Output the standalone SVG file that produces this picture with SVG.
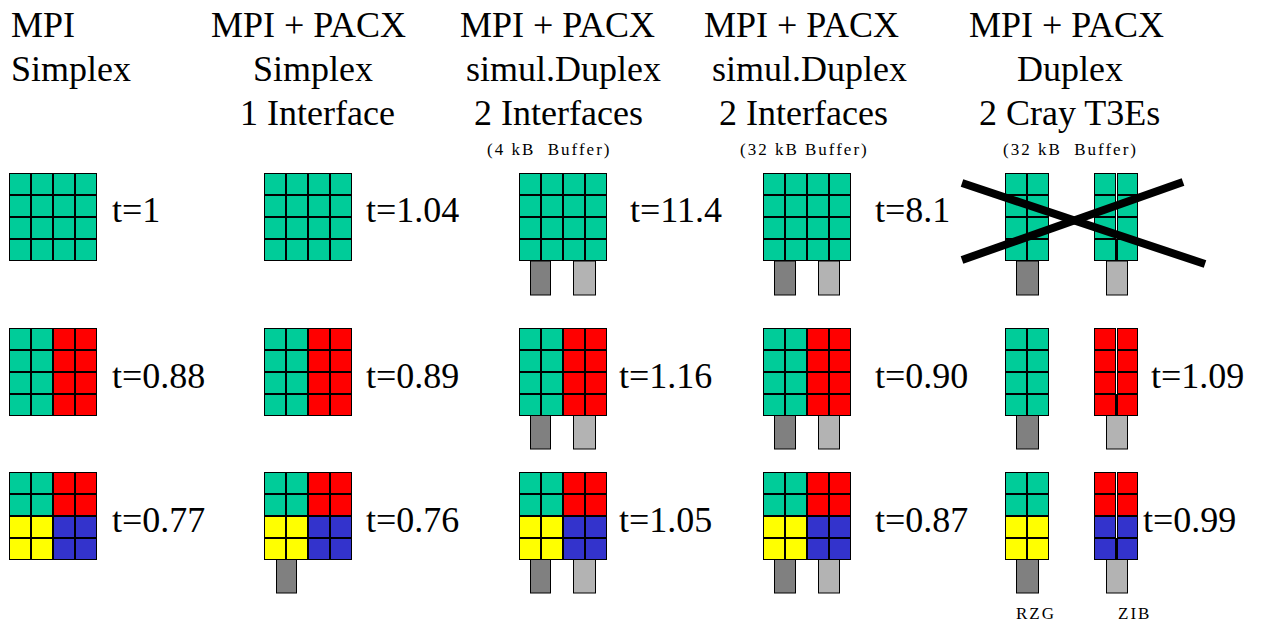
<svg xmlns="http://www.w3.org/2000/svg" width="1263" height="622" viewBox="0 0 1263 622">
<style>
.rs-bg{fill:#000}
.rs-g{fill:#00cc99}.rs-r{fill:#ff0000}.rs-y{fill:#ffff00}.rs-b{fill:#3333cc}
.rs-dk{fill:#808080;stroke:#000;stroke-width:1}
.rs-lt{fill:#b3b3b3;stroke:#000;stroke-width:1}
.rs-gap{fill:#fff}
.rs-x{stroke:#000;stroke-width:8;fill:none}
</style>
<defs>
<g id="G4">
<rect class="rs-bg" width="88" height="88"/>
<rect class="rs-g" x="1" y="1" width="20" height="20"/><rect class="rs-g" x="23" y="1" width="20" height="20"/><rect class="rs-g" x="45" y="1" width="20" height="20"/><rect class="rs-g" x="67" y="1" width="20" height="20"/>
<rect class="rs-g" x="1" y="23" width="20" height="20"/><rect class="rs-g" x="23" y="23" width="20" height="20"/><rect class="rs-g" x="45" y="23" width="20" height="20"/><rect class="rs-g" x="67" y="23" width="20" height="20"/>
<rect class="rs-g" x="1" y="45" width="20" height="20"/><rect class="rs-g" x="23" y="45" width="20" height="20"/><rect class="rs-g" x="45" y="45" width="20" height="20"/><rect class="rs-g" x="67" y="45" width="20" height="20"/>
<rect class="rs-g" x="1" y="67" width="20" height="20"/><rect class="rs-g" x="23" y="67" width="20" height="20"/><rect class="rs-g" x="45" y="67" width="20" height="20"/><rect class="rs-g" x="67" y="67" width="20" height="20"/>
</g>
<g id="GR">
<rect class="rs-bg" width="88" height="88"/>
<rect class="rs-g" x="1" y="1" width="20" height="20"/><rect class="rs-g" x="23" y="1" width="20" height="20"/><rect class="rs-r" x="45" y="1" width="20" height="20"/><rect class="rs-r" x="67" y="1" width="20" height="20"/>
<rect class="rs-g" x="1" y="23" width="20" height="20"/><rect class="rs-g" x="23" y="23" width="20" height="20"/><rect class="rs-r" x="45" y="23" width="20" height="20"/><rect class="rs-r" x="67" y="23" width="20" height="20"/>
<rect class="rs-g" x="1" y="45" width="20" height="20"/><rect class="rs-g" x="23" y="45" width="20" height="20"/><rect class="rs-r" x="45" y="45" width="20" height="20"/><rect class="rs-r" x="67" y="45" width="20" height="20"/>
<rect class="rs-g" x="1" y="67" width="20" height="20"/><rect class="rs-g" x="23" y="67" width="20" height="20"/><rect class="rs-r" x="45" y="67" width="20" height="20"/><rect class="rs-r" x="67" y="67" width="20" height="20"/>
</g>
<g id="Q">
<rect class="rs-bg" width="88" height="88"/>
<rect class="rs-g" x="1" y="1" width="20" height="20"/><rect class="rs-g" x="23" y="1" width="20" height="20"/><rect class="rs-r" x="45" y="1" width="20" height="20"/><rect class="rs-r" x="67" y="1" width="20" height="20"/>
<rect class="rs-g" x="1" y="23" width="20" height="20"/><rect class="rs-g" x="23" y="23" width="20" height="20"/><rect class="rs-r" x="45" y="23" width="20" height="20"/><rect class="rs-r" x="67" y="23" width="20" height="20"/>
<rect class="rs-y" x="1" y="45" width="20" height="20"/><rect class="rs-y" x="23" y="45" width="20" height="20"/><rect class="rs-b" x="45" y="45" width="20" height="20"/><rect class="rs-b" x="67" y="45" width="20" height="20"/>
<rect class="rs-y" x="1" y="67" width="20" height="20"/><rect class="rs-y" x="23" y="67" width="20" height="20"/><rect class="rs-b" x="45" y="67" width="20" height="20"/><rect class="rs-b" x="67" y="67" width="20" height="20"/>
</g>
<g id="HG">
<rect class="rs-bg" width="44" height="88"/>
<rect class="rs-g" x="1" y="1" width="20" height="20"/><rect class="rs-g" x="23" y="1" width="20" height="20"/>
<rect class="rs-g" x="1" y="23" width="20" height="20"/><rect class="rs-g" x="23" y="23" width="20" height="20"/>
<rect class="rs-g" x="1" y="45" width="20" height="20"/><rect class="rs-g" x="23" y="45" width="20" height="20"/>
<rect class="rs-g" x="1" y="67" width="20" height="20"/><rect class="rs-g" x="23" y="67" width="20" height="20"/>
</g>
<g id="HGg">
<rect class="rs-bg" width="44" height="88"/>
<rect class="rs-g" x="1" y="1" width="20" height="20"/><rect class="rs-g" x="24" y="1" width="19" height="20"/>
<rect class="rs-g" x="1" y="23" width="20" height="20"/><rect class="rs-g" x="24" y="23" width="19" height="20"/>
<rect class="rs-g" x="1" y="45" width="20" height="20"/><rect class="rs-g" x="24" y="45" width="19" height="20"/>
<rect class="rs-g" x="1" y="67" width="20" height="20"/><rect class="rs-g" x="24" y="67" width="19" height="20"/>
<rect class="rs-gap" x="22" y="0" width="1" height="66"/>
</g>
<g id="HR">
<rect class="rs-bg" width="44" height="88"/>
<rect class="rs-r" x="1" y="1" width="20" height="20"/><rect class="rs-r" x="24" y="1" width="19" height="20"/>
<rect class="rs-r" x="1" y="23" width="20" height="20"/><rect class="rs-r" x="24" y="23" width="19" height="20"/>
<rect class="rs-r" x="1" y="45" width="20" height="20"/><rect class="rs-r" x="24" y="45" width="19" height="20"/>
<rect class="rs-r" x="1" y="67" width="20" height="20"/><rect class="rs-r" x="24" y="67" width="19" height="20"/>
<rect class="rs-gap" x="22" y="0" width="1" height="66"/>
</g>
<g id="HGY">
<rect class="rs-bg" width="44" height="88"/>
<rect class="rs-g" x="1" y="1" width="20" height="20"/><rect class="rs-g" x="23" y="1" width="20" height="20"/>
<rect class="rs-g" x="1" y="23" width="20" height="20"/><rect class="rs-g" x="23" y="23" width="20" height="20"/>
<rect class="rs-y" x="1" y="45" width="20" height="20"/><rect class="rs-y" x="23" y="45" width="20" height="20"/>
<rect class="rs-y" x="1" y="67" width="20" height="20"/><rect class="rs-y" x="23" y="67" width="20" height="20"/>
</g>
<g id="HRB">
<rect class="rs-bg" width="44" height="88"/>
<rect class="rs-r" x="1" y="1" width="20" height="20"/><rect class="rs-r" x="24" y="1" width="19" height="20"/>
<rect class="rs-r" x="1" y="23" width="20" height="20"/><rect class="rs-r" x="24" y="23" width="19" height="20"/>
<rect class="rs-b" x="1" y="45" width="20" height="20"/><rect class="rs-b" x="24" y="45" width="19" height="20"/>
<rect class="rs-b" x="1" y="67" width="20" height="20"/><rect class="rs-b" x="24" y="67" width="19" height="20"/>
<rect class="rs-gap" x="22" y="0" width="1" height="66"/>
</g>
</defs>
<rect width="1263" height="622" fill="#fff"/>
<g id="headers">
<text x="11" y="37" font-family="Liberation Serif" font-size="36">MPI</text>
<text x="11" y="81" font-family="Liberation Serif" font-size="36">Simplex</text>
<text x="211" y="37" font-family="Liberation Serif" font-size="36">MPI + PACX</text>
<text x="253" y="81" font-family="Liberation Serif" font-size="36">Simplex</text>
<text x="240" y="125" font-family="Liberation Serif" font-size="36">1 Interface</text>
<text x="460" y="37" font-family="Liberation Serif" font-size="36">MPI + PACX</text>
<text x="466" y="81" font-family="Liberation Serif" font-size="36">simul.Duplex</text>
<text x="474" y="125" font-family="Liberation Serif" font-size="36">2 Interfaces</text>
<text x="487" y="155" font-family="Liberation Serif" font-size="17" letter-spacing="2" xml:space="preserve">(4 kB  Buffer)</text>
<text x="704" y="37" font-family="Liberation Serif" font-size="36">MPI + PACX</text>
<text x="712" y="81" font-family="Liberation Serif" font-size="36">simul.Duplex</text>
<text x="719" y="125" font-family="Liberation Serif" font-size="36">2 Interfaces</text>
<text x="740" y="155" font-family="Liberation Serif" font-size="17" letter-spacing="2">(32 kB Buffer)</text>
<text x="969" y="37" font-family="Liberation Serif" font-size="36">MPI + PACX</text>
<text x="1017" y="81" font-family="Liberation Serif" font-size="36">Duplex</text>
<text x="979" y="125" font-family="Liberation Serif" font-size="36">2 Cray T3Es</text>
<text x="1003" y="155" font-family="Liberation Serif" font-size="17" letter-spacing="2" xml:space="preserve">(32 kB  Buffer)</text>
</g>
<g id="r1c1"><use href="#G4" x="9" y="173"/><text x="112" y="222" font-family="Liberation Serif" font-size="36">t=1</text></g>
<g id="r1c2"><use href="#G4" x="264" y="173"/><text x="366" y="222" font-family="Liberation Serif" font-size="36">t=1.04</text></g>
<g id="r1c3"><rect class="rs-dk" x="530.5" y="261" width="20" height="34"/><rect class="rs-lt" x="573.5" y="261" width="22" height="34"/><use href="#G4" x="519" y="173"/><text x="630" y="222" font-family="Liberation Serif" font-size="36">t=11.4</text></g>
<g id="r1c4"><rect class="rs-dk" x="774.5" y="261" width="21" height="34"/><rect class="rs-lt" x="818.5" y="261" width="21" height="34"/><use href="#G4" x="763" y="173"/><text x="875" y="222" font-family="Liberation Serif" font-size="36">t=8.1</text></g>
<g id="r1c5"><rect class="rs-dk" x="1016.5" y="261" width="22" height="34"/><rect class="rs-lt" x="1106.5" y="261" width="21" height="34"/><use href="#HG" x="1005" y="173"/><use href="#HGg" x="1094" y="173"/>
<line class="rs-x" x1="962" y1="183" x2="1205" y2="264"/><line class="rs-x" x1="962" y1="260" x2="1183" y2="182"/></g>
<g id="r2c1"><use href="#GR" x="9" y="328"/><text x="112" y="388" font-family="Liberation Serif" font-size="36">t=0.88</text></g>
<g id="r2c2"><use href="#GR" x="264" y="328"/><text x="366" y="388" font-family="Liberation Serif" font-size="36">t=0.89</text></g>
<g id="r2c3"><rect class="rs-dk" x="530.5" y="415" width="20" height="34"/><rect class="rs-lt" x="573.5" y="415" width="22" height="34"/><use href="#GR" x="519" y="328"/><text x="619" y="388" font-family="Liberation Serif" font-size="36">t=1.16</text></g>
<g id="r2c4"><rect class="rs-dk" x="774.5" y="415" width="21" height="34"/><rect class="rs-lt" x="818.5" y="415" width="21" height="34"/><use href="#GR" x="763" y="328"/><text x="875" y="388" font-family="Liberation Serif" font-size="36">t=0.90</text></g>
<g id="r2c5"><rect class="rs-dk" x="1016.5" y="415" width="22" height="34"/><rect class="rs-lt" x="1106.5" y="415" width="21" height="34"/><use href="#HG" x="1005" y="328"/><use href="#HR" x="1094" y="328"/><text x="1151" y="388" font-family="Liberation Serif" font-size="36">t=1.09</text></g>
<g id="r3c1"><use href="#Q" x="9" y="472"/><text x="112" y="532" font-family="Liberation Serif" font-size="36">t=0.77</text></g>
<g id="r3c2"><rect class="rs-dk" x="276.5" y="559" width="20" height="34"/><use href="#Q" x="264" y="472"/><text x="366" y="532" font-family="Liberation Serif" font-size="36">t=0.76</text></g>
<g id="r3c3"><rect class="rs-dk" x="530.5" y="559" width="20" height="34"/><rect class="rs-lt" x="573.5" y="559" width="22" height="34"/><use href="#Q" x="519" y="472"/><text x="619" y="532" font-family="Liberation Serif" font-size="36">t=1.05</text></g>
<g id="r3c4"><rect class="rs-dk" x="774.5" y="559" width="21" height="34"/><rect class="rs-lt" x="818.5" y="559" width="21" height="34"/><use href="#Q" x="763" y="472"/><text x="875" y="532" font-family="Liberation Serif" font-size="36">t=0.87</text></g>
<g id="r3c5"><rect class="rs-dk" x="1016.5" y="559" width="22" height="34"/><rect class="rs-lt" x="1106.5" y="559" width="21" height="34"/><use href="#HGY" x="1005" y="472"/><use href="#HRB" x="1094" y="472"/><text x="1143" y="532" font-family="Liberation Serif" font-size="36">t=0.99</text>
<text x="1016" y="619" font-family="Liberation Serif" font-size="17" letter-spacing="2">RZG</text><text x="1118" y="619" font-family="Liberation Serif" font-size="17" letter-spacing="2">ZIB</text></g>
</svg>
